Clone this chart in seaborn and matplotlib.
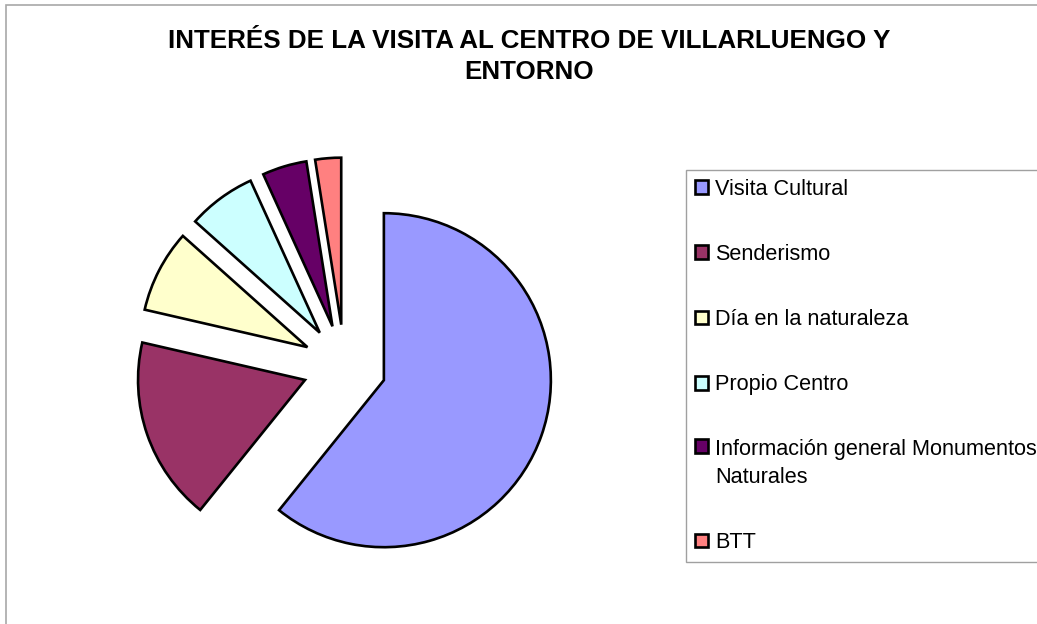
import matplotlib.pyplot as plt
import seaborn as sns
from matplotlib.patches import Rectangle

# Datos (porcentaje aproximado)
categorias = [
    "Visita Cultural",
    "Senderismo",
    "Día en la naturaleza",
    "Propio Centro",
    "Información general Monumentos\nNaturales",
    "BTT",
]
valores = [60.8, 17.8, 8.0, 6.6, 4.3, 2.5]
colores = ["#9999FF", "#993366", "#FFFFCC", "#CCFFFF", "#660066", "#FF8080"]
titulo = "INTERÉS DE LA VISITA AL CENTRO DE VILLARLUENGO Y\nENTORNO"

sns.set_style("white")
plt.rcParams["font.family"] = ["Liberation Sans", "DejaVu Sans"]
plt.rcParams["text.color"] = "black"

W, H = 1037, 624
fig = plt.figure(figsize=(W / 100, H / 100), dpi=100)

# marco gris de la figura
fig.patches.append(Rectangle((6 / W, -0.1), 2, (H - 5) / H + 0.1,
                             transform=fig.transFigure, fill=False,
                             edgecolor="#a8a8a8", linewidth=1.2))

# --- Tarta ---
r_px = 167
cx, cy = 344.5, 366.3
ax = fig.add_axes([(cx - 1.5 * r_px) / W, (H - cy - 1.5 * r_px) / H,
                   3 * r_px / W, 3 * r_px / H])
wedges, _ = ax.pie(valores, colors=colores, explode=[0.25] * len(valores),
                   startangle=90, counterclock=False,
                   wedgeprops=dict(edgecolor="black", linewidth=1.9))
ax.set_xlim(-1.5, 1.5)
ax.set_ylim(-1.5, 1.5)
ax.set_aspect("equal")
ax.axis("off")

# --- Título ---
fig.text(529 / W, 1 - 28.5 / H, titulo, ha="center", va="top",
         fontsize=18.7, fontweight="bold", linespacing=1.4, color="black")

# --- Leyenda ---
leg = fig.legend(wedges, categorias, loc="upper left",
                 bbox_to_anchor=(686 / W, 1 - 170 / H), borderaxespad=0,
                 fontsize=15.6, handlelength=0.6, handleheight=0.6,
                 handletextpad=0.35, borderpad=0.4, labelspacing=2.04,
                 frameon=True, fancybox=False, framealpha=1)
leg.get_frame().set_edgecolor("#a0a0a0")
leg.get_frame().set_linewidth(1.0)
for t in leg.get_texts():
    t.set_color("black")
leg.get_texts()[4].set_linespacing(1.4)
# el marcador de la entrada de dos líneas va alineado con la primera línea
filas = leg._legend_handle_box.get_children()[0].get_children()
filas[4].align = "top"

fig.savefig("out.png", dpi=100)
